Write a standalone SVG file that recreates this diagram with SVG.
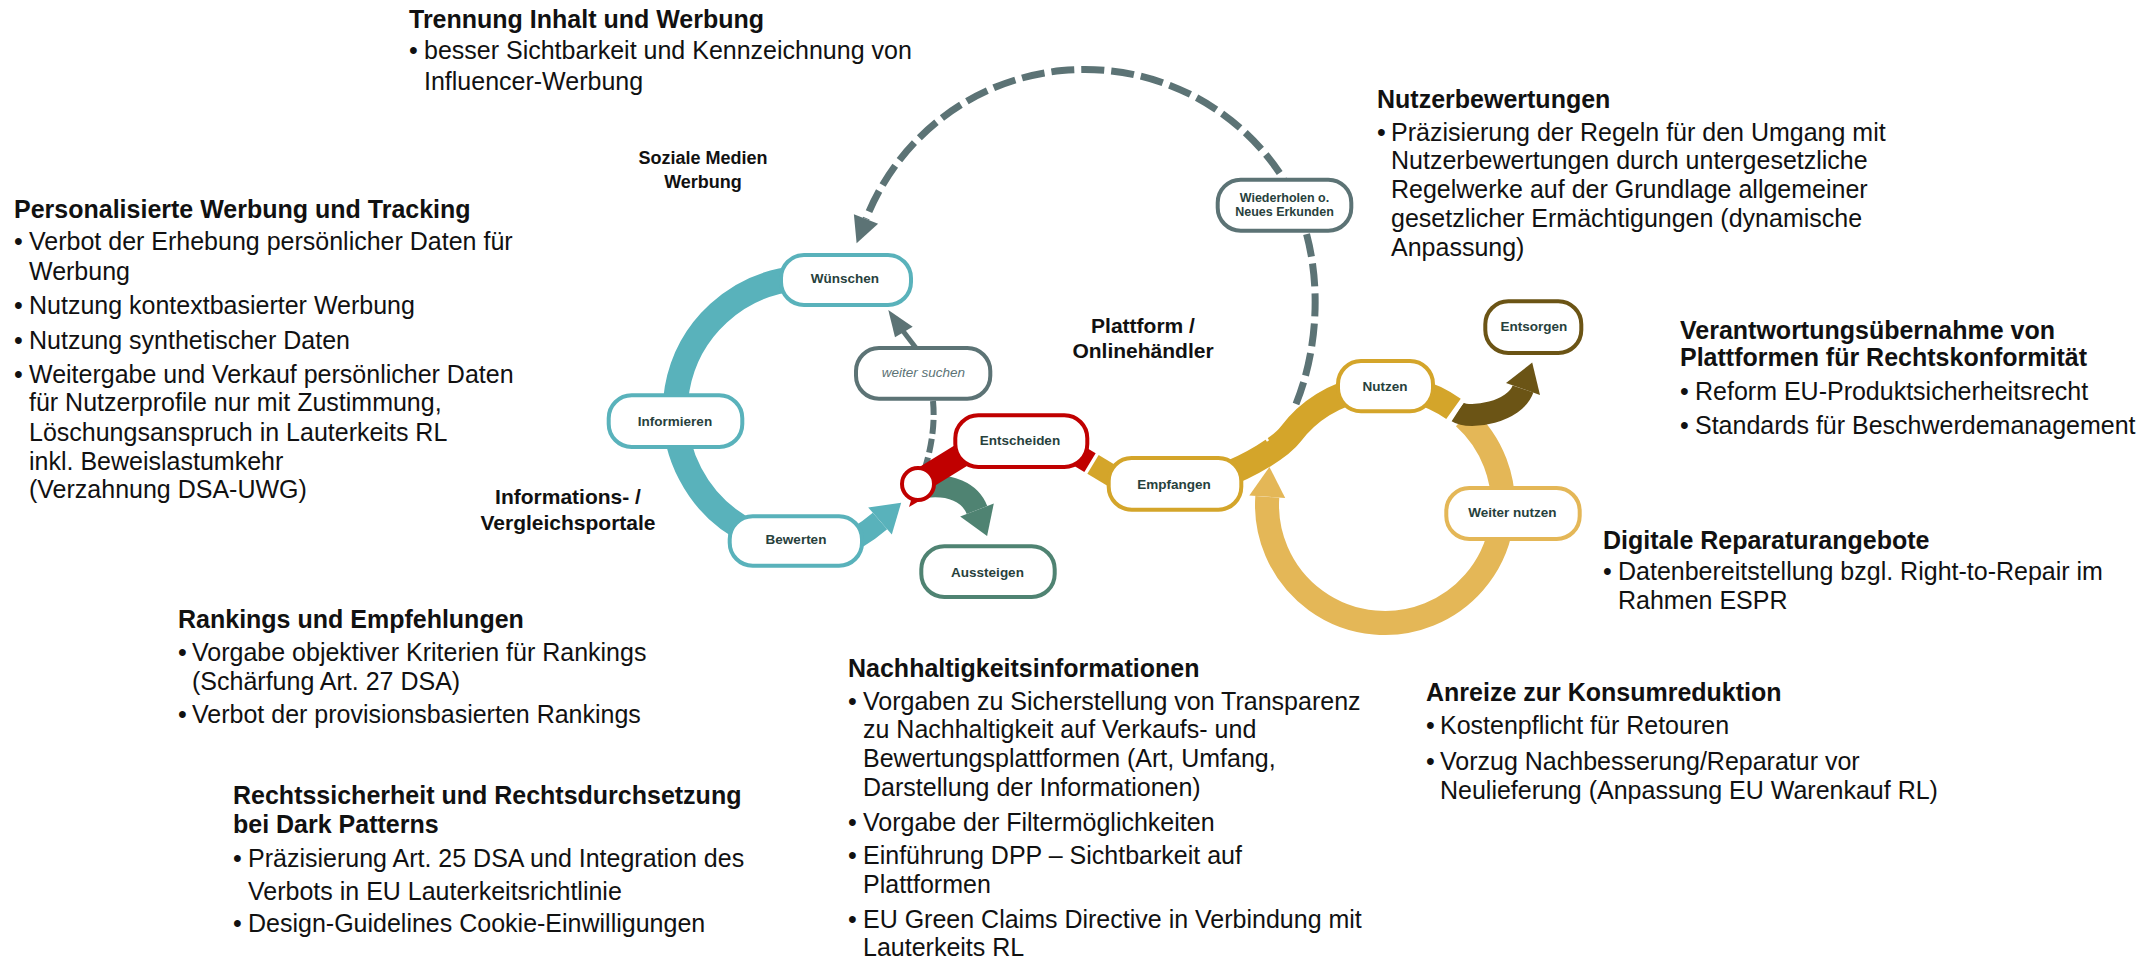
<svg xmlns="http://www.w3.org/2000/svg" width="2152" height="966" viewBox="0 0 2152 966">
  <style>
    .t { font-family: "Liberation Sans", Arial, sans-serif; font-size: 25px; fill: #111; }
    .b { font-weight: bold; }
    .grp { font-family: "Liberation Sans", Arial, sans-serif; font-weight: bold; fill: #111; text-anchor: middle; }
    .lbl { font-family: "Liberation Sans", Arial, sans-serif; font-size: 13.5px; font-weight: bold; fill: #27413C; text-anchor: middle; }
    .box { fill: #fff; stroke-width: 4; }
    .band { fill: none; stroke-linecap: butt; }
    .teal { stroke: #59B2BB; }
    .gray { stroke: #5C7375; }
    .red { stroke: #C00000; }
    .green { stroke: #4F8372; }
    .gold { stroke: #D4A52A; }
    .lgold { stroke: #E4B757; }
    .brown { stroke: #6B5415; }
  </style>

  <!-- connectors -->
  <g id="connectors">
    <!-- big dashed return loop to "Wünschen" -->
    <path class="band gray" stroke-width="7" stroke-dasharray="23 7" d="M1296,404 C1316,355 1322,290 1306,232 L1283,178 A235,235 0 0,0 866,219"/>
    <polygon fill="#5C7375" points="856.6,243.2 878.1,223.7 853.9,214.3"/>

    <!-- teal cycle -->
    <path class="band teal" stroke-width="25" d="M797.3,278.5 A134,134 0 0,0 752.4,533.4"/>
    <path class="band teal" stroke-width="22" d="M828,552 Q858,540 880,521"/>
    <polygon fill="#59B2BB" points="901.2,502.7 891.8,534.6 868.2,507.4"/>

    <!-- weiter suchen links -->
    <path class="band gray" stroke-width="6" stroke-dasharray="14 5" d="M933,401 Q936,432 925,468"/>
    <path class="band gray" stroke-width="5" d="M916,348 L903,331"/>
    <polygon fill="#5C7375" points="888.3,310 895,337.3 912.7,326.7"/>

    <!-- exit arrow -->
    <path class="band green" stroke-width="22" d="M925,487 C950,484 970,492 977,510"/>
    <polygon fill="#4F8372" points="987.1,536.1 993.8,503.5 960.2,516.5"/>

    <!-- decision band -->
    <line class="band red" stroke-width="24" x1="918" y1="482" x2="970" y2="450"/>
    <polygon fill="#C00000" points="909,507 912,497 921,500"/>
    <line class="band red" stroke-width="22" x1="1050" y1="438.6" x2="1090" y2="462.6"/>
    <line class="band gold" stroke-width="22" x1="1093" y1="464.4" x2="1140" y2="492.6"/>

    <!-- usage ring -->
    <path class="band lgold" stroke-width="24" d="M1464,417.3 A118,118 0 1,1 1267.3,496.8"/>
    <polygon fill="#E4B757" points="1269.4,466.9 1285.2,498 1249.3,495.5"/>
    <path class="band gold" stroke-width="25" d="M1222,476 C1250,466 1281,447 1290.8,434 A118,118 0 0,1 1453.5,408.9"/>
    <line stroke="#fff" stroke-width="2.5" x1="1261" y1="430" x2="1268" y2="441"/>

    <!-- disposal arrow -->
    <path class="band brown" stroke-width="22" d="M1457.6,412 C1470,420 1515,412 1523,389"/>
    <polygon fill="#6B5415" points="1532.2,362.6 1540,394.9 1506,383.1"/>
    <line stroke="#fff" stroke-width="3" x1="1448.2" y1="421.1" x2="1463.8" y2="400.4"/>
  </g>

  <!-- nodes -->
  <g id="node-wuenschen">
    <rect class="box teal" x="781" y="255" width="130" height="50" rx="23"/>
    <text class="lbl" x="845" y="283">Wünschen</text>
  </g>
  <g id="node-informieren">
    <rect class="box teal" x="608.7" y="395.3" width="133.6" height="51.7" rx="23"/>
    <text class="lbl" x="675" y="426">Informieren</text>
  </g>
  <g id="node-bewerten">
    <rect class="box teal" x="729.7" y="516.3" width="132.3" height="49.4" rx="23"/>
    <text class="lbl" x="796" y="544">Bewerten</text>
  </g>
  <g id="node-weiter-suchen">
    <rect class="box gray" x="856" y="348" width="134.3" height="50.7" rx="23"/>
    <text class="lbl" x="923.3" y="376.5" style="font-weight:normal;font-style:italic;font-size:13.5px;fill:#5C7375">weiter suchen</text>
  </g>
  <g id="node-junction">
    <circle cx="918" cy="484" r="16" fill="#fff" stroke="#C00000" stroke-width="4"/>
  </g>
  <g id="node-entscheiden">
    <rect class="box red" x="955.3" y="415.3" width="132" height="51.7" rx="23"/>
    <text class="lbl" x="1020" y="445">Entscheiden</text>
  </g>
  <g id="node-aussteigen">
    <rect class="box green" x="921.3" y="546.3" width="133.4" height="50.7" rx="23"/>
    <text class="lbl" x="987.5" y="576.5">Aussteigen</text>
  </g>
  <g id="node-empfangen">
    <rect class="box gold" x="1108.7" y="458" width="132.6" height="51.7" rx="23"/>
    <text class="lbl" x="1174" y="489">Empfangen</text>
  </g>
  <g id="node-nutzen">
    <rect class="box gold" x="1338" y="361" width="95" height="50.3" rx="23"/>
    <text class="lbl" x="1385" y="390.5">Nutzen</text>
  </g>
  <g id="node-entsorgen">
    <rect class="box brown" x="1485.3" y="301.3" width="96" height="51.7" rx="23"/>
    <text class="lbl" x="1534" y="330.5">Entsorgen</text>
  </g>
  <g id="node-weiter-nutzen">
    <rect class="box lgold" x="1446.3" y="488" width="133.4" height="51" rx="23"/>
    <text class="lbl" x="1512.5" y="517">Weiter nutzen</text>
  </g>
  <g id="node-wiederholen">
    <rect class="box gray" x="1217.7" y="179.7" width="133.6" height="51" rx="23"/>
    <text class="lbl" x="1284.5" y="201.5" style="font-size:12.5px">Wiederholen o.</text>
    <text class="lbl" x="1284.5" y="216" style="font-size:12.5px">Neues Erkunden</text>
  </g>

  <!-- channel labels -->
  <g id="label-soziale-medien">
    <text class="grp" x="703" y="163.5" font-size="18">Soziale Medien</text>
    <text class="grp" x="703" y="187.5" font-size="18">Werbung</text>
  </g>
  <g id="label-plattform">
    <text class="grp" x="1143" y="333" font-size="21">Plattform /</text>
    <text class="grp" x="1143" y="357.5" font-size="21">Onlinehändler</text>
  </g>
  <g id="label-portale">
    <text class="grp" x="568" y="504" font-size="21">Informations- /</text>
    <text class="grp" x="568" y="530" font-size="21">Vergleichsportale</text>
  </g>

  <!-- measure blocks -->
  <g id="block-trennung">
    <text class="t b" x="409" y="28">Trennung Inhalt und Werbung</text>
    <text class="t" x="409" y="59">•</text>
    <text class="t" x="424" y="59">besser Sichtbarkeit und Kennzeichnung von</text>
    <text class="t" x="424" y="90">Influencer-Werbung</text>
  </g>

  <g id="block-personalisiert">
    <text class="t b" x="14" y="218">Personalisierte Werbung und Tracking</text>
    <text class="t" x="14" y="250">•</text>
    <text class="t" x="29" y="250">Verbot der Erhebung persönlicher Daten für</text>
    <text class="t" x="29" y="280">Werbung</text>
    <text class="t" x="14" y="314">•</text>
    <text class="t" x="29" y="314">Nutzung kontextbasierter Werbung</text>
    <text class="t" x="14" y="349">•</text>
    <text class="t" x="29" y="349">Nutzung synthetischer Daten</text>
    <text class="t" x="14" y="383">•</text>
    <text class="t" x="29" y="383">Weitergabe und Verkauf persönlicher Daten</text>
    <text class="t" x="29" y="411">für Nutzerprofile nur mit Zustimmung,</text>
    <text class="t" x="29" y="440.5">Löschungsanspruch in Lauterkeits RL</text>
    <text class="t" x="29" y="469.5">inkl. Beweislastumkehr</text>
    <text class="t" x="29" y="498">(Verzahnung DSA-UWG)</text>
  </g>

  <g id="block-nutzerbewertungen">
    <text class="t b" x="1377" y="108">Nutzerbewertungen</text>
    <text class="t" x="1377" y="141">•</text>
    <text class="t" x="1391" y="141">Präzisierung der Regeln für den Umgang mit</text>
    <text class="t" x="1391" y="169">Nutzerbewertungen durch untergesetzliche</text>
    <text class="t" x="1391" y="198">Regelwerke auf der Grundlage allgemeiner</text>
    <text class="t" x="1391" y="227">gesetzlicher Ermächtigungen (dynamische</text>
    <text class="t" x="1391" y="256">Anpassung)</text>
  </g>

  <g id="block-verantwortung">
    <text class="t b" x="1680" y="339">Verantwortungsübernahme von</text>
    <text class="t b" x="1680" y="366">Plattformen für Rechtskonformität</text>
    <text class="t" x="1680" y="400">•</text>
    <text class="t" x="1695" y="400">Reform EU-Produktsicherheitsrecht</text>
    <text class="t" x="1680" y="434">•</text>
    <text class="t" x="1695" y="434">Standards für Beschwerdemanagement</text>
  </g>

  <g id="block-reparatur">
    <text class="t b" x="1603" y="549">Digitale Reparaturangebote</text>
    <text class="t" x="1603" y="580">•</text>
    <text class="t" x="1618" y="580">Datenbereitstellung bzgl. Right-to-Repair im</text>
    <text class="t" x="1618" y="609">Rahmen ESPR</text>
  </g>

  <g id="block-rankings">
    <text class="t b" x="178" y="628">Rankings und Empfehlungen</text>
    <text class="t" x="178" y="661">•</text>
    <text class="t" x="192" y="661">Vorgabe objektiver Kriterien für Rankings</text>
    <text class="t" x="192" y="689.5">(Schärfung Art. 27 DSA)</text>
    <text class="t" x="178" y="723">•</text>
    <text class="t" x="192" y="723">Verbot der provisionsbasierten Rankings</text>
  </g>

  <g id="block-dark-patterns">
    <text class="t b" x="233" y="804">Rechtssicherheit und Rechtsdurchsetzung</text>
    <text class="t b" x="233" y="833">bei Dark Patterns</text>
    <text class="t" x="233" y="867">•</text>
    <text class="t" x="248" y="867">Präzisierung Art. 25 DSA und Integration des</text>
    <text class="t" x="248" y="900">Verbots in EU Lauterkeitsrichtlinie</text>
    <text class="t" x="233" y="932">•</text>
    <text class="t" x="248" y="932">Design-Guidelines Cookie-Einwilligungen</text>
  </g>

  <g id="block-nachhaltigkeit">
    <text class="t b" x="848" y="677">Nachhaltigkeitsinformationen</text>
    <text class="t" x="848" y="710">•</text>
    <text class="t" x="863" y="710">Vorgaben zu Sicherstellung von Transparenz</text>
    <text class="t" x="863" y="738">zu Nachhaltigkeit auf Verkaufs- und</text>
    <text class="t" x="863" y="766.5">Bewertungsplattformen (Art, Umfang,</text>
    <text class="t" x="863" y="796">Darstellung der Informationen)</text>
    <text class="t" x="848" y="831">•</text>
    <text class="t" x="863" y="831">Vorgabe der Filtermöglichkeiten</text>
    <text class="t" x="848" y="863.5">•</text>
    <text class="t" x="863" y="863.5">Einführung DPP – Sichtbarkeit auf</text>
    <text class="t" x="863" y="893">Plattformen</text>
    <text class="t" x="848" y="928">•</text>
    <text class="t" x="863" y="928">EU Green Claims Directive in Verbindung mit</text>
    <text class="t" x="863" y="956">Lauterkeits RL</text>
  </g>

  <g id="block-konsumreduktion">
    <text class="t b" x="1426" y="701">Anreize zur Konsumreduktion</text>
    <text class="t" x="1426" y="734">•</text>
    <text class="t" x="1440" y="734">Kostenpflicht für Retouren</text>
    <text class="t" x="1426" y="770">•</text>
    <text class="t" x="1440" y="770">Vorzug Nachbesserung/Reparatur vor</text>
    <text class="t" x="1440" y="799">Neulieferung (Anpassung EU Warenkauf RL)</text>
  </g>
</svg>
